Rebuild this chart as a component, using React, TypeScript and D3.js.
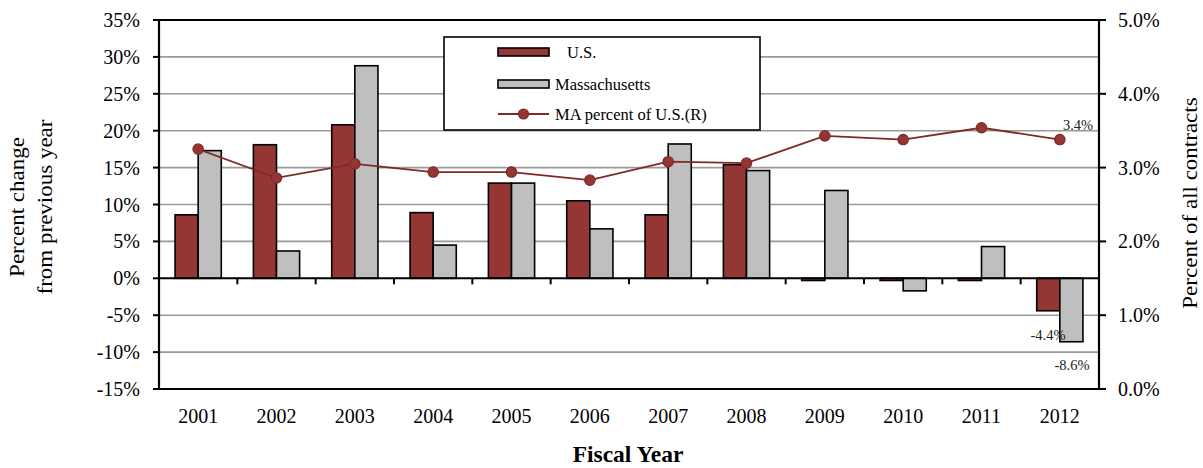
import React from "react";
import * as d3 from "d3";

const years = ["2001","2002","2003","2004","2005","2006","2007","2008","2009","2010","2011","2012"];
const usChange = [8.6, 18.1, 20.8, 8.9, 12.9, 10.5, 8.6, 15.4, -0.3, -0.3, -0.3, -4.4];
const maChange = [17.3, 3.7, 28.8, 4.5, 12.9, 6.7, 18.2, 14.6, 11.9, -1.7, 4.3, -8.6];
const maShare = [3.25, 2.86, 3.05, 2.94, 2.94, 2.83, 3.08, 3.06, 3.43, 3.38, 3.54, 3.38];
const leftTicks = [-15, -10, -5, 0, 5, 10, 15, 20, 25, 30, 35];
const rightTicks = [0, 1, 2, 3, 4, 5];

const W = 1203, H = 468;
const L = 159, R = 1099, T = 20, B = 389;
const US_COLOR = "#943634";
const MA_COLOR = "#BFBFBF";
const LINE_COLOR = "#7F2A28";
const FONT = "'Liberation Serif', 'Times New Roman', serif";

export default function App() {
  const x = d3.scaleBand<string>().domain(years).range([L, R]).paddingInner(0.41).paddingOuter(0.205);
  const sub = d3.scaleBand<string>().domain(["us", "ma"]).range([0, x.bandwidth()]);
  const y = d3.scaleLinear().domain([-15, 35]).range([B, T]);
  const y2 = d3.scaleLinear().domain([0, 5]).range([B, T]);
  const step = (R - L) / years.length;
  const cx = (yr: string) => (x(yr) as number) + x.bandwidth() / 2;

  const line = d3.line<number>().x((_, i) => cx(years[i])).y((d) => y2(d));

  const bar = (v: number, yr: string, key: string, fill: string) => {
    const x0 = (x(yr) as number) + (sub(key) as number);
    const y0 = y(Math.max(0, v));
    const h = Math.abs(y(v) - y(0));
    return <rect key={key + yr} x={x0} y={y0} width={sub.bandwidth()} height={h} fill={fill} stroke="#000" strokeWidth={1.6} />;
  };

  const lx = 444, ly = 37, lw = 316, lh = 93;

  return (
    <svg width={W} height={H} style={{ display: "block", position: "absolute", left: 0, top: 0 }} fontFamily={FONT}>
      <rect x={0} y={0} width={W} height={H} fill="#fff" />
      {/* gridlines */}
      {leftTicks.filter((t) => t !== 0 && t !== 35 && t !== -15).map((t) => (
        <line key={"g" + t} x1={L} x2={R} y1={y(t)} y2={y(t)} stroke="#9a9a9a" strokeWidth={1.6} />
      ))}
      {/* border top/bottom */}
      <line x1={L - 6} x2={R} y1={T} y2={T} stroke="#000" strokeWidth={2} />
      <line x1={L - 6} x2={R} y1={B} y2={B} stroke="#000" strokeWidth={2} />
      {/* left axis */}
      <line x1={L} x2={L} y1={T} y2={B} stroke="#000" strokeWidth={2.2} />
      {leftTicks.map((t) => (
        <g key={"lt" + t}>
          <line x1={L - 6} x2={L} y1={y(t)} y2={y(t)} stroke="#000" strokeWidth={2} />
          <text x={140} y={y(t)} dy="0.35em" textAnchor="end" fontSize={20}>{t + "%"}</text>
        </g>
      ))}
      {/* right axis */}
      <line x1={R} x2={R} y1={T} y2={B} stroke="#000" strokeWidth={2.2} />
      {rightTicks.map((t) => (
        <g key={"rt" + t}>
          <line x1={R} x2={R + 7} y1={y2(t)} y2={y2(t)} stroke="#000" strokeWidth={2} />
          <text x={1118} y={y2(t)} dy="0.35em" textAnchor="start" fontSize={20}>{t.toFixed(1) + "%"}</text>
        </g>
      ))}
      {/* bars */}
      {years.map((yr, i) => bar(usChange[i], yr, "us", US_COLOR))}
      {years.map((yr, i) => bar(maChange[i], yr, "ma", MA_COLOR))}
      {/* zero axis */}
      <line x1={L} x2={R} y1={y(0)} y2={y(0)} stroke="#000" strokeWidth={2} />
      {d3.range(1, years.length).map((k) => (
        <line key={"xt" + k} x1={L + k * step} x2={L + k * step} y1={y(0)} y2={y(0) + 6} stroke="#000" strokeWidth={2} />
      ))}
      {/* line series */}
      <path d={line(maShare) || ""} fill="none" stroke={LINE_COLOR} strokeWidth={1.8} />
      {maShare.map((v, i) => (
        <circle key={"c" + i} cx={cx(years[i])} cy={y2(v)} r={5.2} fill={US_COLOR} stroke={LINE_COLOR} strokeWidth={1.2} />
      ))}
      {/* data labels */}
      <text x={1078} y={130} textAnchor="middle" fontSize={14.5} fill="#222">3.4%</text>
      <text x={1048} y={340} textAnchor="middle" fontSize={14.5} fill="#222">-4.4%</text>
      <text x={1072} y={370} textAnchor="middle" fontSize={14.5} fill="#222">-8.6%</text>
      {/* x labels */}
      {years.map((yr) => (
        <text key={"xl" + yr} x={cx(yr)} y={423} textAnchor="middle" fontSize={20}>{yr}</text>
      ))}
      <text x={628} y={462} textAnchor="middle" fontSize={23.5} fontWeight="bold">Fiscal Year</text>
      {/* axis titles */}
      <text transform={`translate(24,207) rotate(-90) scale(1.15,1)`} textAnchor="middle" fontSize={20}>
        <tspan x={0} dy={0}>Percent change</tspan>
        <tspan x={0} dy={28}>from previous year</tspan>
      </text>
      <text transform={`translate(1197,203) rotate(-90) scale(1.15,1)`} textAnchor="middle" fontSize={20}>Percent of all contracts</text>
      {/* legend */}
      <rect x={lx} y={ly} width={lw} height={lh} fill="#fff" stroke="#000" strokeWidth={1.6} />
      <rect x={498} y={48} width={51} height={8} fill={US_COLOR} stroke="#000" strokeWidth={1.6} />
      <text x={567} y={52} dy="0.35em" fontSize={16.5}>U.S.</text>
      <rect x={498} y={80} width={51} height={8} fill={MA_COLOR} stroke="#000" strokeWidth={1.6} />
      <text x={555} y={84} dy="0.35em" fontSize={16.5}>Massachusetts</text>
      <line x1={498} x2={549} y1={114} y2={114} stroke={LINE_COLOR} strokeWidth={1.8} />
      <circle cx={523.5} cy={114} r={5} fill={US_COLOR} stroke={LINE_COLOR} strokeWidth={1.2} />
      <text x={555} y={114} dy="0.35em" fontSize={16.5}>MA percent of U.S.(R)</text>
    </svg>
  );
}
